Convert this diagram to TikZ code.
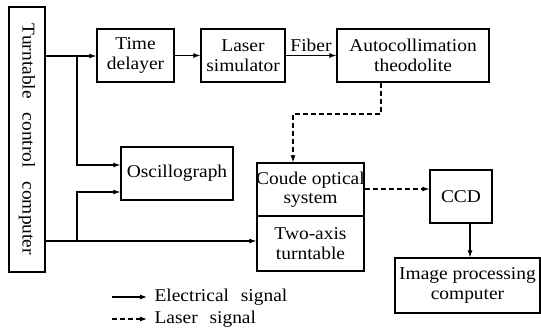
\documentclass[tikz,border=0pt]{standalone}
\usepackage{fontspec}
\setmainfont[FakeStretch=1.08]{Liberation Serif}
\usetikzlibrary{arrows.meta}
\begin{document}
\begin{tikzpicture}[x=1pt,y=-1pt,
  txt/.style={inner sep=0pt,align=center,font=\fontsize{18}{19.5}\selectfont},
  box/.style={draw,line width=1.2pt,inner sep=0pt},
  sig/.style={line width=1.1pt,-{Latex[length=7pt,width=5pt]}},
  las/.style={sig,dash pattern=on 5pt off 3pt},
  lbl/.style={txt}]
\useasboundingbox (0,0) rectangle (541,329);
\node[box,minimum width=36pt,minimum height=265pt,label={[txt,rotate=-90]center:{Turntable\hspace{9pt} control\hspace{9pt} computer}}] (tcc) at (27,139.5) {};
\node[box,minimum width=77pt,minimum height=53pt,label={[txt]center:{Time\\delayer}}] (td) at (135.5,55.5) {};
\node[box,minimum width=84pt,minimum height=53pt,label={[txt]center:{Laser\\simulator}}] (ls) at (243,55.5) {};
\node[box,minimum width=152pt,minimum height=53pt,label={[txt]center:{Autocollimation\\theodolite}}] (at) at (413,55.5) {};
\node[box,minimum width=112pt,minimum height=53pt,label={[txt]center:{Oscillograph}}] (osc) at (177,173.5) {};
\node[box,minimum width=107pt,minimum height=53pt,label={[txt]center:{Coude optical\\system}}] (coude) at (310.5,189.5) {};
\node[box,minimum width=107pt,minimum height=55pt,label={[txt]center:{Two-axis\\turntable}}] (two) at (310.5,243.5) {};
\node[box,minimum width=62pt,minimum height=53pt,label={[txt]center:{CCD}}] (ccd) at (461,196.5) {};
\node[box,minimum width=145pt,minimum height=55pt,label={[txt]center:{Image processing\\computer}}] (ipc) at (467.5,285.5) {};
\coordinate (b1) at (77,56);
\coordinate (b2) at (77,241);
\draw[sig] (tcc.east|-b1) -- (td.west|-b1);
\draw[sig] (td) -- (ls);
\draw[sig] (ls) -- node[lbl,above=3pt] {Fiber} (at);
\draw[sig] (b1) |- (osc.west|-0,165);
\draw[sig] (tcc.east|-b2) -- (two.west|-b2);
\draw[sig] (b2) |- (osc.west|-0,192);
\draw[las] (at.south-|381,0) |- (293,114) -- (coude.north-|293,0);
\draw[las] (coude.east|-0,189) -- (ccd.west|-0,189);
\draw[sig] (ccd.south-|470,0) -- (ipc.north-|470,0);
\coordinate (l1) at (112,297);
\coordinate (l2) at (112,319);
\draw[sig] (l1) -- ++(35,0) node[lbl,right=7pt] (t1) {Electrical\hspace{7pt} signal};
\draw[las] (l2) -- ++(35,0) node[lbl,right=7pt] (t2) {Laser\hspace{7pt} signal};
\end{tikzpicture}
\end{document}
